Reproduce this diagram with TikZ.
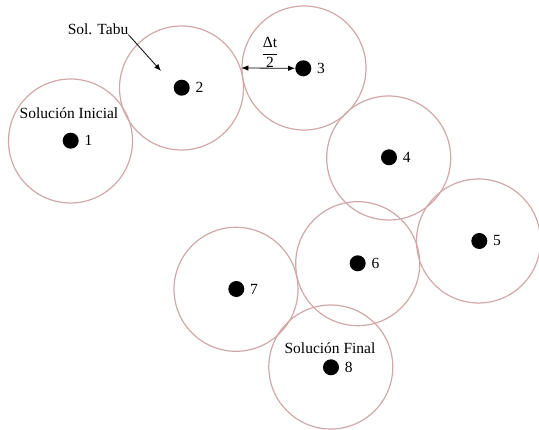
\documentclass[tikz,border=0pt]{standalone}
\usepackage{fontspec}
\setmainfont{Liberation Serif}
\usetikzlibrary{arrows.meta}
\definecolor{ringcol}{RGB}{208,168,168}
\tikzset{
  ring/.style={circle, draw=ringcol, line width=1.2pt, minimum size=124pt, inner sep=0pt},
  dot/.style={circle, fill=black, minimum size=16pt, inner sep=0pt},
  lbl/.style={anchor=west, inner sep=1pt, font=\fontsize{15.5}{18}\selectfont},
  txt/.style={inner sep=0pt, font=\fontsize{15.5}{18}\selectfont},
  tip/.style={Latex[length=7pt,width=5.5pt]},
  arr/.style={line width=0.8pt, -{Latex[length=7pt,width=5.5pt]}},
  darr/.style={line width=0.8pt, {Latex[length=7pt,width=5.5pt]}-{Latex[length=7pt,width=5.5pt]}},
}
\begin{document}
\begin{tikzpicture}[x=1pt,y=-1pt]
\useasboundingbox (0,0) rectangle (539,430);
% rings
\node[ring] (c1) at (70.5,141) {};
\node[ring] (c2) at (181.5,88) {};
\node[ring] (c3) at (304,68) {};
\node[ring] (c4) at (388.7,158) {};
\node[ring] (c5) at (478.5,241) {};
\node[ring] (c6) at (357.7,263.7) {};
\node[ring] (c7) at (236,289.3) {};
\node[ring] (c8) at (330.8,367) {};
% dots
\node[dot] (d1) at (70.7,140.7) {};
\node[dot] (d2) at (181.7,87.7) {};
\node[dot] (d3) at (303.3,68.3) {};
\node[dot] (d4) at (389,157.3) {};
\node[dot] (d5) at (479.3,241) {};
\node[dot] (d6) at (357.7,263.3) {};
\node[dot] (d7) at (236.3,289) {};
\node[dot] (d8) at (331,367.3) {};
% labels
\node[lbl] (l1) at ([xshift=4.5pt]d1.east) {1};
\node[lbl] (l2) at ([xshift=4.5pt]d2.east) {2};
\node[lbl] (l3) at ([xshift=4.5pt]d3.east) {3};
\node[lbl] (l4) at ([xshift=4.5pt]d4.east) {4};
\node[lbl] (l5) at ([xshift=4.5pt]d5.east) {5};
\node[lbl] (l6) at ([xshift=4.5pt]d6.east) {6};
\node[lbl] (l7) at ([xshift=4.5pt]d7.east) {7};
\node[lbl] (l8) at ([xshift=4.5pt]d8.east) {8};
% texts
\node[txt] (ini) at (69,113) {Solución Inicial};
\node[txt] (fin) at (330,348.3) {Solución Final};
\node[txt] (tabu) at (98,29) {Sol. Tabu};
\node[txt] (frac) at (270,52.5) {$\displaystyle\frac{\mbox{Δt}}{\mbox{2}}$};
% arrows
\coordinate (tabuend) at (161,71);
\draw[arr] (tabu.south east) -- (tabuend);
\draw[darr] (c3.west) -- (d3.west);
\end{tikzpicture}
\end{document}
